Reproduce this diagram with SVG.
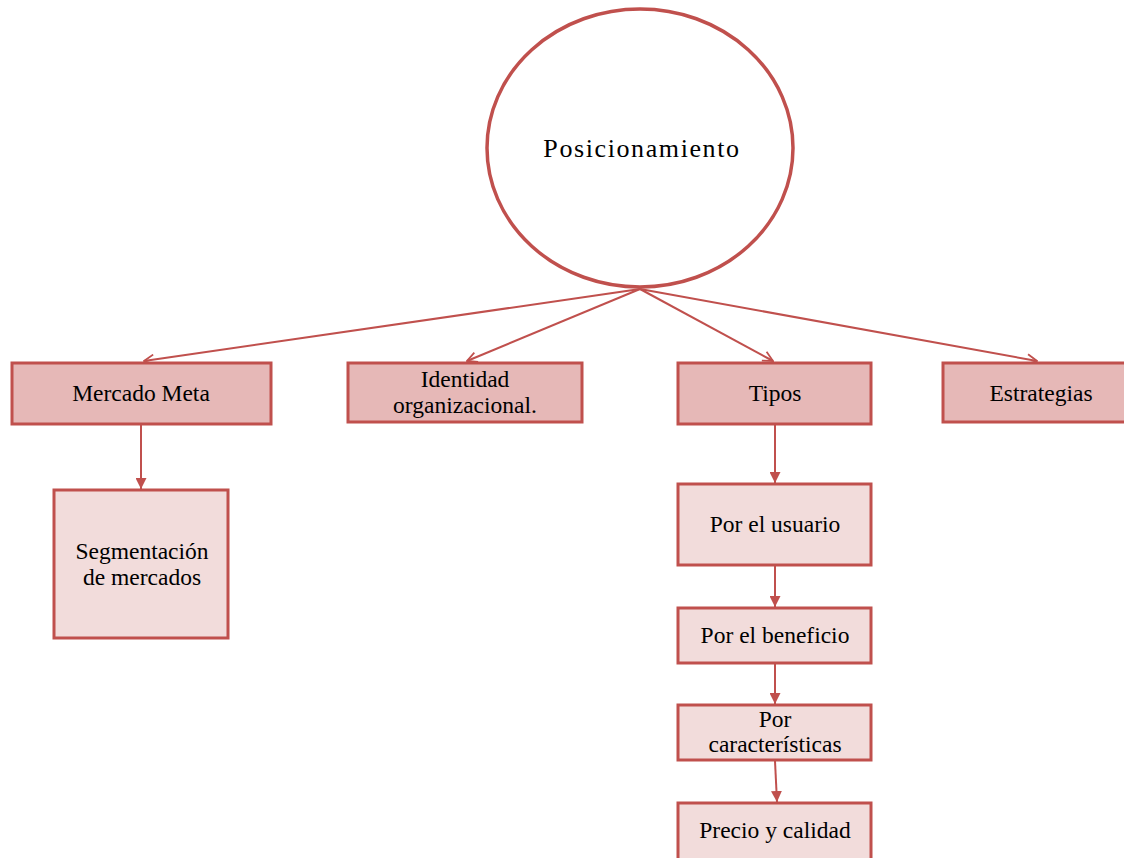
<svg xmlns="http://www.w3.org/2000/svg" width="1124" height="858" viewBox="0 0 1124 858">
  <style>
    .box1 { fill: #E6B8B7; stroke: #C0504D; stroke-width: 3; }
    .box2 { fill: #F2DCDB; stroke: #C0504D; stroke-width: 3; }
    .hub { fill: #FFFFFF; stroke: #C0504D; stroke-width: 3.5; }
    text { font-family: 'Liberation Serif', 'Times New Roman', Times, 'DejaVu Serif', serif; fill: #000000; text-anchor: middle; }
    .lbl { font-size: 23.5px; }
    .hubl { font-size: 26px; letter-spacing: 1.6px; }
    .link { fill: none; stroke: #C0504D; stroke-width: 2; }
  </style>
  <defs>
    <marker id="open" viewBox="0 0 12 12" refX="11" refY="6" markerWidth="12" markerHeight="12" markerUnits="userSpaceOnUse" orient="auto">
      <path d="M1,1 L11,6 L1,11" fill="none" stroke="#C0504D" stroke-width="1.8"/>
    </marker>
    <marker id="solid" viewBox="0 0 10 10" refX="10" refY="5" markerWidth="11" markerHeight="11" markerUnits="userSpaceOnUse" orient="auto">
      <path d="M0,0 L10,5 L0,10 Z" fill="#C0504D"/>
    </marker>
  </defs>

  <!-- connectors -->
  <g id="connectors">
    <line class="link" x1="640" y1="289" x2="144" y2="361" marker-end="url(#open)"/>
    <line class="link" x1="640" y1="289" x2="467" y2="361" marker-end="url(#open)"/>
    <line class="link" x1="640" y1="289" x2="773" y2="361" marker-end="url(#open)"/>
    <line class="link" x1="640" y1="289" x2="1037" y2="361" marker-end="url(#open)"/>
    <line class="link" x1="141" y1="425" x2="141" y2="489" marker-end="url(#solid)"/>
    <line class="link" x1="775" y1="425" x2="775" y2="483" marker-end="url(#solid)"/>
    <line class="link" x1="775" y1="566" x2="775" y2="607" marker-end="url(#solid)"/>
    <line class="link" x1="775" y1="664" x2="775" y2="704" marker-end="url(#solid)"/>
    <line class="link" x1="775" y1="761" x2="777" y2="802" marker-end="url(#solid)"/>
  </g>

  <!-- central topic -->
  <g id="posicionamiento">
    <ellipse class="hub" cx="640" cy="148" rx="153" ry="139"/>
    <text class="hubl" x="642" y="157" font-family="Liberation Serif">Posicionamiento</text>
  </g>

  <!-- first level -->
  <g id="mercado-meta">
    <rect class="box1" x="12" y="363" width="259" height="61"/>
    <text class="lbl" x="141" y="401">Mercado Meta</text>
  </g>
  <g id="identidad">
    <rect class="box1" x="348" y="363" width="234" height="59"/>
    <text class="lbl" x="465" y="387">Identidad</text>
    <text class="lbl" x="465" y="413">organizacional.</text>
  </g>
  <g id="tipos">
    <rect class="box1" x="678" y="363" width="193" height="61"/>
    <text class="lbl" x="775" y="401">Tipos</text>
  </g>
  <g id="estrategias">
    <rect class="box1" x="943" y="363" width="197" height="59"/>
    <text class="lbl" x="1041" y="401">Estrategias</text>
  </g>

  <!-- second level -->
  <g id="segmentacion">
    <rect class="box2" x="54" y="490" width="174" height="148"/>
    <text class="lbl" x="142" y="559">Segmentación</text>
    <text class="lbl" x="142" y="585">de mercados</text>
  </g>
  <g id="por-usuario">
    <rect class="box2" x="678" y="484" width="193" height="81"/>
    <text class="lbl" x="775" y="532">Por el usuario</text>
  </g>
  <g id="por-beneficio">
    <rect class="box2" x="678" y="608" width="193" height="55"/>
    <text class="lbl" x="775" y="643">Por el beneficio</text>
  </g>
  <g id="por-caracteristicas">
    <rect class="box2" x="678" y="705" width="193" height="55"/>
    <text class="lbl" x="775" y="727">Por</text>
    <text class="lbl" x="775" y="752">características</text>
  </g>
  <g id="precio-calidad">
    <rect class="box2" x="678" y="803" width="193" height="70"/>
    <text class="lbl" x="775" y="838">Precio y calidad</text>
  </g>
</svg>
